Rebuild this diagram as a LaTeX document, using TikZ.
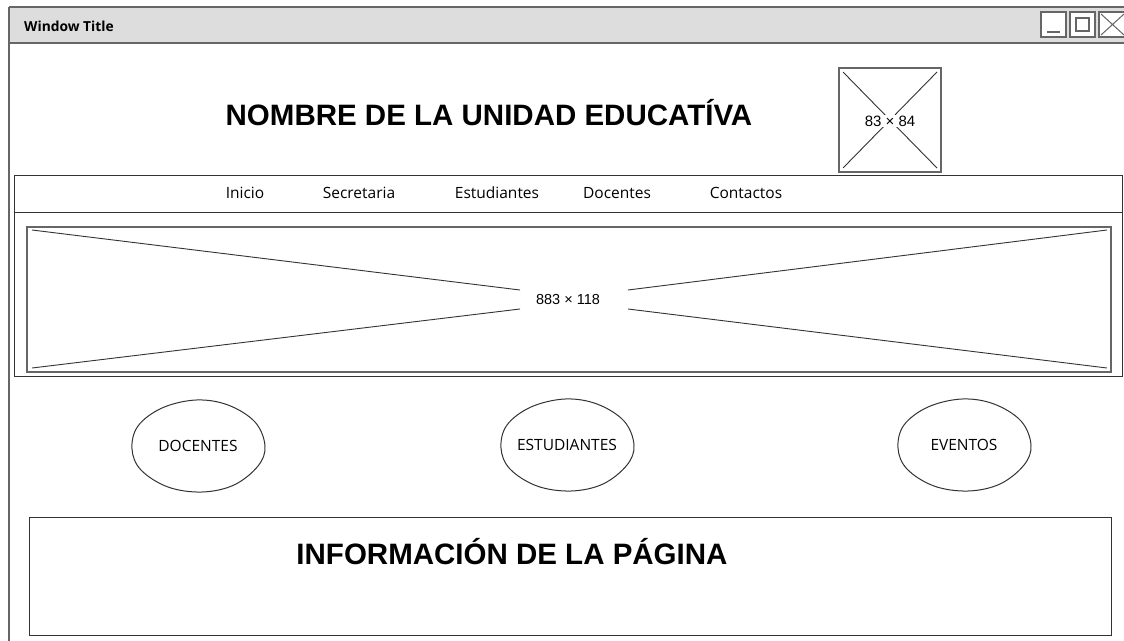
\documentclass[tikz,border=0pt]{standalone}
\usepackage{fontspec}
\setmainfont{Liberation Sans}
\newfontfamily\sketchfont{Open Sans}
\usetikzlibrary{shapes.geometric}
\definecolor{frameg}{HTML}{666666}
\definecolor{lineg}{HTML}{333333}
\definecolor{titlebg}{HTML}{DDDDDD}
\newcommand{\wobbly}[1]{%
  \draw[lineg,line width=1pt] plot[smooth cycle,tension=0.6] coordinates {
    ([shift={(67,0)}]#1.center) ([shift={(57,-24)}]#1.center)
    ([shift={(30,-41)}]#1.center) ([shift={(-2,-46)}]#1.center)
    ([shift={(-36,-38)}]#1.center) ([shift={(-60,-20)}]#1.center)
    ([shift={(-66,3)}]#1.center) ([shift={(-57,24)}]#1.center)
    ([shift={(-30,41)}]#1.center) ([shift={(4,46)}]#1.center)
    ([shift={(36,39)}]#1.center) ([shift={(60,20)}]#1.center)};}
\begin{document}
\begin{tikzpicture}[x=1pt,y=-1pt,
  framebox/.style={draw=lineg,line width=1pt},
  imgframe/.style={draw=frameg,line width=1.6pt},
  imgline/.style={draw=lineg,line width=0.9pt},
  navitem/.style={font=\sketchfont\fontsize{15.5}{18}\selectfont,text=black,inner sep=0pt},
  bubble/.style={ellipse,minimum width=134pt,minimum height=92pt,inner sep=0pt,font=\sketchfont\fontsize{15.5}{18}\selectfont},
  bigtitle/.style={font=\bfseries\fontsize{29.5}{34}\selectfont,inner sep=0pt},
  wbtn/.style={draw=frameg,line width=1.2pt,fill=white}
]
\useasboundingbox (0,0) rectangle (1124,640);
% window
\fill[white] (9,7) rectangle (1130,645);
\fill[titlebg] (9,7) rectangle (1130,43);
\draw[frameg,line width=1.6pt] (9,7) -- (1130,7);
\draw[frameg,line width=1.6pt] (9,43) -- (1130,43);
\draw[frameg,line width=1.6pt] (9,7) -- (9,645);
\node[anchor=west,inner sep=0pt,font=\sketchfont\bfseries\fontsize{13.8}{16}\selectfont] (wtitle) at (24,26) {Window Title};
% window buttons
\draw[wbtn] (1041,12) rectangle (1066,37);
\draw[frameg,line width=1.2pt] (1047,32) -- (1060,32);
\draw[wbtn] (1070,12) rectangle (1095,37);
\draw[frameg,line width=1.2pt] (1076,18) rectangle (1089,31);
\draw[wbtn] (1099,12) rectangle (1130,37);
\draw[frameg,line width=1pt] (1101,14) -- (1124,35) (1101,35) -- (1124,14);
% header title
\node[bigtitle] (school) at (489,113) {NOMBRE DE LA UNIDAD EDUCATÍVA};
% logo placeholder
\draw[imgframe] (839,68) rectangle (941,172);
\draw[imgline] (843,72) -- (937,168);
\draw[imgline] (937,72) -- (843,168);
\node[inner sep=1pt,fill=white,font=\fontsize{15}{17}\selectfont] (logo) at (890,121) {83 × 84};
% nav bar box
\draw[framebox] (14,175) rectangle (1122,376);
\draw[framebox] (14,212) -- (1122,212);
\node[navitem] (n1) at (245,193) {Inicio};
\node[navitem] (n2) at (359,193) {Secretaria};
\node[navitem] (n3) at (497,193) {Estudiantes};
\node[navitem] (n4) at (617,193) {Docentes};
\node[navitem] (n5) at (746,193) {Contactos};
% hero image placeholder
\draw[imgframe] (27,227) rectangle (1111,372);
\node[inner sep=0pt,minimum width=104pt,minimum height=24pt,font=\fontsize{14.5}{17}\selectfont] (hero) at (568,300) {883 × 118};
\draw[imgline] (32,230) -- (520,290);
\draw[imgline] (32,368) -- (520,309);
\draw[imgline] (1107,230) -- (628,290);
\draw[imgline] (1107,368) -- (628,309);
% bubbles
\node[bubble] (b1) at (198,446) {DOCENTES};
\node[bubble] (b2) at (567,445) {ESTUDIANTES};
\node[bubble] (b3) at (964,445) {EVENTOS};
\wobbly{b1}
\wobbly{b2}
\wobbly{b3}
% info box
\draw[framebox] (29,517) rectangle (1111,635);
\node[bigtitle] (info) at (512,552) {INFORMACIÓN DE LA PÁGINA};
\end{tikzpicture}
\end{document}
